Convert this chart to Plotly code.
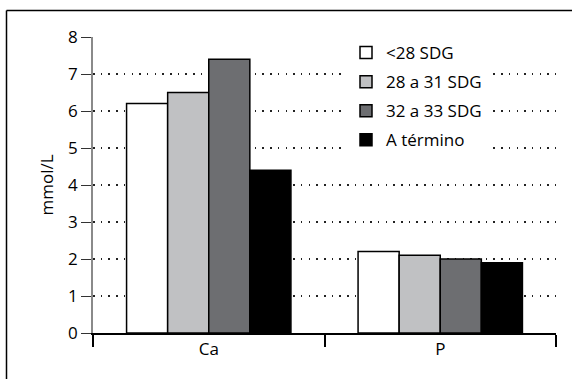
import plotly.graph_objects as go

categories = ["Ca", "P"]
series_names = ["<28 SDG", "28 a 31 SDG", "32 a 33 SDG", "A término"]
series_values = [
    [6.2, 2.2],
    [6.5, 2.1],
    [7.4, 2.0],
    [4.4, 1.9],
]
series_colors = ["#ffffff", "#c0c1c3", "#6d6e71", "#000000"]
y_ticks = [0, 1, 2, 3, 4, 5, 6, 7, 8]

FONT = "Open Sans"
FS = 17
W, H = 579, 380
L, R, T, B = 93, 23, 37, 47

fig = go.Figure()
for i, (name, vals, col) in enumerate(zip(series_names, series_values, series_colors)):
    fig.add_trace(go.Bar(
        x=categories, y=vals, name=name,
        marker=dict(color=col, line=dict(color="#000000", width=1.5)),
        legendgroup=f"g{i}",
    ))

pw = W - L - R
ph = H - T - B
# outer frame: left and top edges
fx0 = (6.5 - L) / pw
fx1 = (572 - L) / pw
fy0 = -(H - 1 - T - ph) / ph
fy1 = 1 + (T - 10.5) / ph
fig.add_shape(type="line", xref="paper", yref="paper",
              x0=fx0, x1=fx0, y0=fy0, y1=fy1,
              line=dict(color="#000000", width=1.5), layer="below")
fig.add_shape(type="line", xref="paper", yref="paper",
              x0=fx0, x1=fx1, y0=fy1, y1=fy1,
              line=dict(color="#000000", width=1.5), layer="below")

fig.update_layout(
    width=W, height=H,
    margin=dict(l=L, r=R, t=T, b=B),
    paper_bgcolor="#ffffff", plot_bgcolor="#ffffff",
    barmode="group", bargap=0.29, bargroupgap=0,
    font=dict(family=FONT, size=FS, color="#000000"),
    showlegend=True,
    legend=dict(
        x=(346 - L) / pw, y=1 - (35 - T) / ph, xanchor="left", yanchor="top",
        bgcolor="#ffffff", borderwidth=0,
        font=dict(family=FONT, size=FS, color="#000000"),
        tracegroupgap=4, traceorder="grouped",
    ),
    xaxis=dict(
        type="category", tickson="boundaries", ticks="outside", ticklen=12,
        tickcolor="#000000", tickwidth=1.5,
        showline=True, linecolor="#000000", linewidth=1.5,
        showgrid=False, zeroline=False,
        tickfont=dict(family=FONT, size=FS),
    ),
    yaxis=dict(
        range=[0, 8], tickvals=y_ticks, ticks="outside", ticklen=10,
        tickcolor="#333333", tickwidth=1.2,
        showline=True, linecolor="#8a8a8a", linewidth=1.5,
        showgrid=True, gridcolor="#222222", gridwidth=1.5, griddash="1.5px,6.2px",
        zeroline=False,
        title=dict(text="mmol/L", font=dict(family=FONT, size=FS), standoff=10),
        tickfont=dict(family=FONT, size=FS),
    ),
)

fig.write_html("out.html")
